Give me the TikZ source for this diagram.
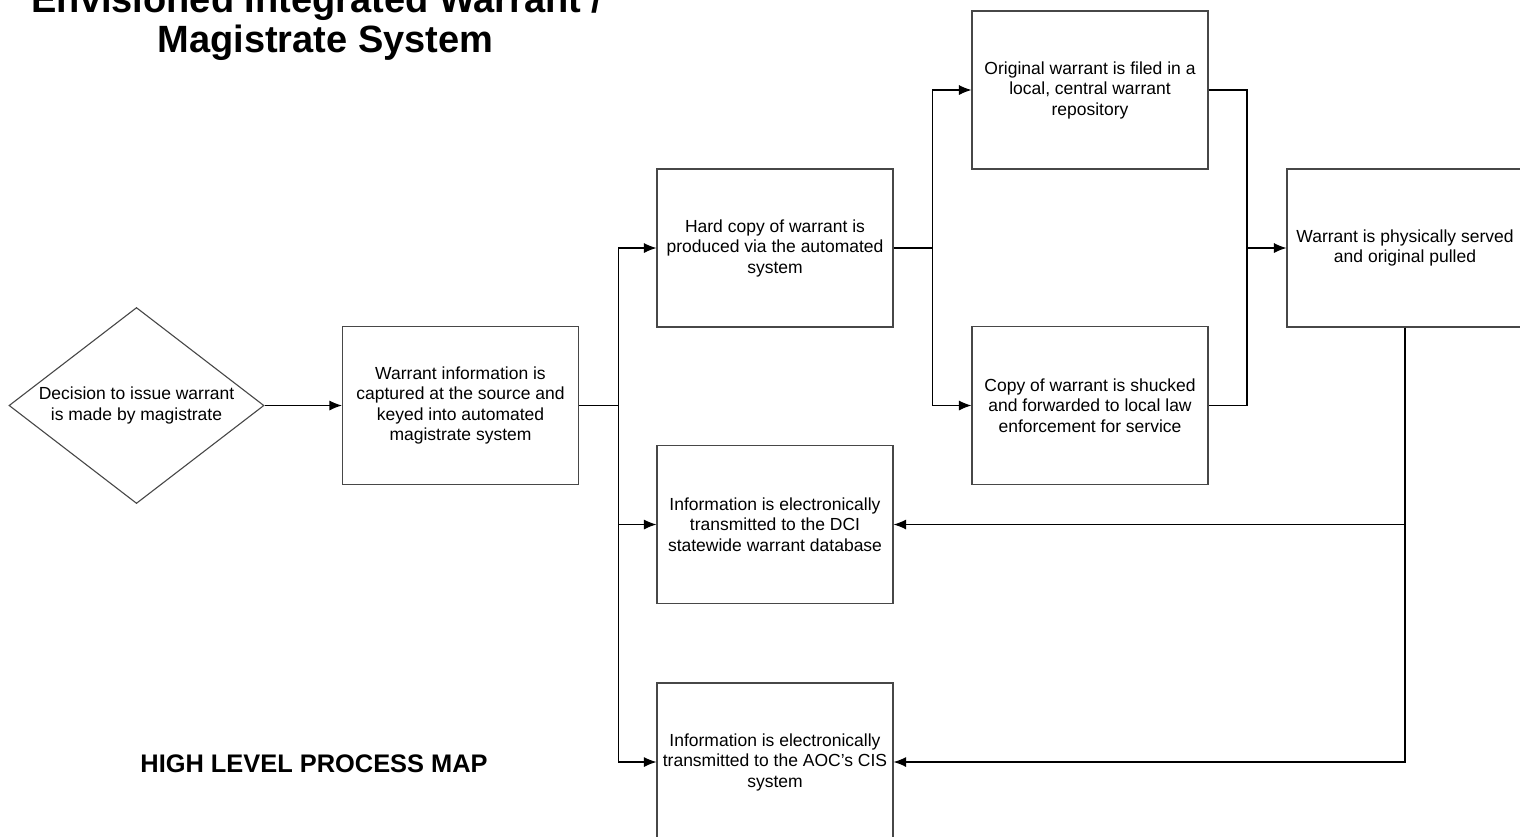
\documentclass[tikz,border=0pt]{standalone}
\usepackage{fontspec}
\setmainfont{Liberation Sans}
\usetikzlibrary{shapes.geometric,arrows.meta}

\tikzset{
  procbox/.style={draw=black!72, line width=1.1pt, minimum width=236pt, minimum height=158pt,
    inner sep=0pt, align=center, font=\fontsize{17.5}{20.5}\selectfont},
  decision/.style={diamond, draw=black!72, line width=1.1pt, aspect=1.3,
    minimum width=255pt, minimum height=196pt, inner sep=0pt, align=center,
    font=\fontsize{17.5}{20.5}\selectfont},
  flow/.style={draw=black, line width=1.1pt},
  arrow/.style={flow, -{Latex[length=12.5pt,width=10pt]}},
  titletext/.style={anchor=base, inner sep=0pt, font=\bfseries\fontsize{38}{40}\selectfont},
  captiontext/.style={anchor=base, inner sep=0pt, font=\bfseries\fontsize{25.4}{28}\selectfont}
}

\begin{document}
\begin{tikzpicture}[x=1pt, y=-1pt]
  \useasboundingbox (0,0) rectangle (1520,836);
  \clip (0,0) rectangle (1520,836);
  \fill[white] (0,0) rectangle (1520,836);

  % headings
  \node[titletext] (title1) at (317,12) {Envisioned Integrated Warrant /};
  \node[titletext] (title2) at (325.5,52) {Magistrate System};
  \node[captiontext] (caption) at (314,772) {HIGH LEVEL PROCESS MAP};

  % process steps
  \node[decision] (decide) at (136.5,405.5) {Decision to issue warrant\\is made by magistrate};
  \node[procbox] (capture) at (460.5,405.5) {Warrant information is\\captured at the source and\\keyed into automated\\magistrate system};
  \node[procbox] (hardcopy) at (775,248) {Hard copy of warrant is\\produced via the automated\\system};
  \node[procbox] (dci) at (775,524.5) {Information is electronically\\transmitted to the DCI\\statewide warrant database};
  \node[procbox] (aoc) at (775,762) {Information is electronically\\transmitted to the AOC's CIS\\system};
  \node[procbox] (repo) at (1090,90) {Original warrant is filed in a\\local, central warrant\\repository};
  \node[procbox] (shuck) at (1090,405.5) {Copy of warrant is shucked\\and forwarded to local law\\enforcement for service};
  \node[procbox] (served) at (1405,248) {Warrant is physically served\\and original pulled};

  % branch points
  \coordinate (split1) at (618.5,405.5);
  \coordinate (split2) at (932.5,248);
  \coordinate (merge) at (1247,248);

  % connectors
  \draw[arrow] (decide.east) -- (capture.west);
  \draw[flow] (capture.east) -- (split1);
  \draw[arrow] (split1) |- (hardcopy.west);
  \draw[arrow] (split1) |- (dci.west);
  \draw[arrow] (split1) |- (aoc.west);
  \draw[flow] (hardcopy.east) -- (split2);
  \draw[arrow] (split2) |- (repo.west);
  \draw[arrow] (split2) |- (shuck.west);
  \draw[flow] (repo.east) -| (merge) |- (shuck.east);
  \draw[arrow] (merge) -- (served.west);
  \draw[arrow] (served.south) |- (dci.east);
  \draw[arrow] (served.south) |- (aoc.east);
\end{tikzpicture}
\end{document}
